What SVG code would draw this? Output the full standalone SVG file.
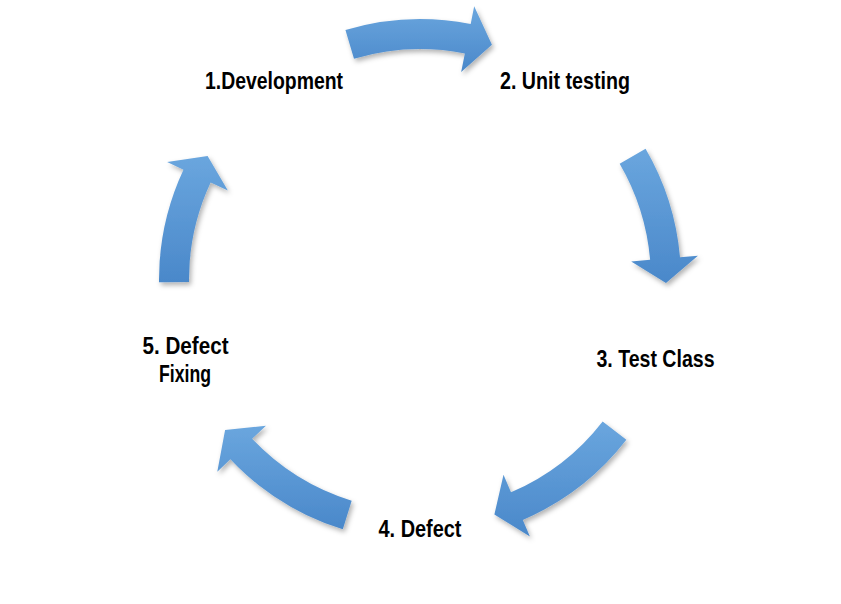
<svg xmlns="http://www.w3.org/2000/svg" width="841" height="604" viewBox="0 0 841 604">
  <defs>
    <linearGradient id="blue" x1="0" y1="0" x2="0" y2="1">
      <stop offset="0" stop-color="#6aa6de"/>
      <stop offset="1" stop-color="#4a88ca"/>
    </linearGradient>
    <filter id="shadow" x="-20%" y="-20%" width="140%" height="140%">
      <feDropShadow dx="2" dy="3" stdDeviation="2.5" flood-color="#000" flood-opacity="0.3"/>
    </filter>
  </defs>
  <style>
    .arrow { fill: url(#blue); filter: url(#shadow); }
    .label { font-family: "Liberation Sans Narrow", "Liberation Sans", Arial, sans-serif; font-weight: bold; font-size: 24px; fill: #000; text-anchor: middle; }
  </style>
  <rect width="841" height="604" fill="#ffffff"/>

  <g id="connectors">
    <path id="arrow-1-2" class="arrow" d="M345.43,29.88 A261,261 0 0 1 470.69,23.96 L474.18,6.30 L491.93,44.75 L461.17,72.03 L464.86,53.39 A231,231 0 0 0 354.00,58.63 Z"/>
    <path id="arrow-2-3" class="arrow" d="M645.58,148.72 A261,261 0 0 1 680.01,257.24 L697.94,255.67 L665.98,283.01 L631.19,261.51 L650.12,259.86 A231,231 0 0 0 619.65,163.81 Z"/>
    <path id="arrow-3-4" class="arrow" d="M626.37,439.78 A261,261 0 0 1 522.81,519.89 L529.90,536.43 L494.39,514.49 L503.51,474.85 L510.99,492.31 A231,231 0 0 0 602.65,421.42 Z"/>
    <path id="arrow-4-5" class="arrow" d="M342.82,529.33 A261,261 0 0 1 230.36,459.33 L217.28,471.70 L225.09,430.08 L265.96,425.67 L252.16,438.72 A231,231 0 0 0 351.69,500.67 Z"/>
    <path id="arrow-5-1" class="arrow" d="M159.01,282.28 A261,261 0 0 1 183.46,169.70 L167.14,162.09 L207.60,155.89 L227.86,190.41 L210.64,182.38 A231,231 0 0 0 189.01,282.02 Z"/>
  </g>

  <g id="node-1">
    <text class="label" x="274" y="89" textLength="138" lengthAdjust="spacingAndGlyphs">1.Development</text>
  </g>
  <g id="node-2">
    <text class="label" x="565" y="89" textLength="130" lengthAdjust="spacingAndGlyphs">2. Unit testing</text>
  </g>
  <g id="node-3">
    <text class="label" x="655.5" y="367" textLength="118" lengthAdjust="spacingAndGlyphs">3. Test Class</text>
  </g>
  <g id="node-4">
    <text class="label" x="420" y="537" textLength="83" lengthAdjust="spacingAndGlyphs">4. Defect</text>
  </g>
  <g id="node-5">
    <text class="label" x="185.5" y="354" textLength="86" lengthAdjust="spacingAndGlyphs">5. Defect</text>
    <text class="label" x="185" y="382" textLength="52" lengthAdjust="spacingAndGlyphs">Fixing</text>
  </g>
</svg>
